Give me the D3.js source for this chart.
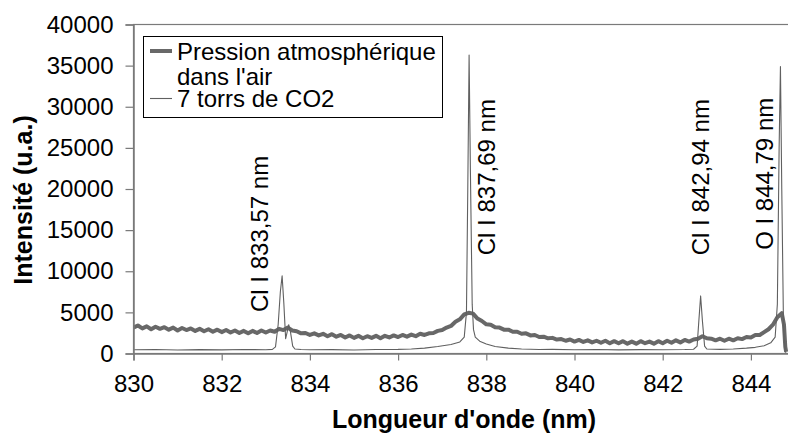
<!DOCTYPE html>
<html>
<head>
<meta charset="utf-8">
<script src="https://cdn.jsdelivr.net/npm/d3@7"></script>
<style>
  html, body { margin: 0; padding: 0; background: #fff; }
  svg { display: block; font-family: "Liberation Sans", Arial, sans-serif; }
</style>
</head>
<body>
<svg id="chart" width="788" height="434"></svg>
<script>
// ---- Data ----
const seriesNames = ["Pression atmosphérique", "dans l'air", "7 torrs de CO2"];

const airWavelength = [
  830.0,830.1,830.2,830.3,830.4,830.5,830.6,830.7,830.8,830.9,
  831.0,831.1,831.2,831.3,831.4,831.5,831.6,831.7,831.8,831.9,
  832.0,832.1,832.2,832.3,832.4,832.5,832.6,832.7,832.8,832.9,
  833.0,833.1,833.2,833.3,833.4,833.5,833.6,833.7,833.8,833.9,
  834.0,834.1,834.2,834.3,834.4,834.5,834.6,834.7,834.8,834.9,
  835.0,835.1,835.2,835.3,835.4,835.5,835.6,835.7,835.8,835.9,
  836.0,836.1,836.2,836.3,836.4,836.5,836.6,836.7,836.8,836.9,
  837.0,837.1,837.2,837.3,837.4,837.5,837.6,837.7,837.8,837.9,
  838.0,838.1,838.2,838.3,838.4,838.5,838.6,838.7,838.8,838.9,
  839.0,839.1,839.2,839.3,839.4,839.5,839.6,839.7,839.8,839.9,
  840.0,840.1,840.2,840.3,840.4,840.5,840.6,840.7,840.8,840.9,
  841.0,841.1,841.2,841.3,841.4,841.5,841.6,841.7,841.8,841.9,
  842.0,842.1,842.2,842.3,842.4,842.5,842.6,842.7,842.8,842.9,
  843.0,843.1,843.2,843.3,843.4,843.5,843.6,843.7,843.8,843.9,
  844.0,844.1,844.2,844.3,844.4,844.5,844.6,844.7,844.75,844.78,844.8
];
const airIntensity = [
  3150,3400,3050,3300,2950,3250,3000,3200,2900,3150,
  2800,3100,2850,3050,2750,3000,2700,2950,2650,2900,
  2600,2850,2550,2800,2500,2750,2450,2750,2500,2800,
  2550,2800,2650,3000,2850,3150,2800,2700,2450,2500,
  2250,2450,2200,2400,2100,2350,2050,2250,1950,2200,
  1900,2150,1850,2100,1900,2150,1850,2150,1950,2200,
  2000,2250,2050,2300,2100,2400,2250,2450,2500,2750,
  2850,3150,3350,3850,4150,4750,4950,4850,4250,3950,
  3550,3500,3200,3150,2900,2900,2650,2650,2400,2450,
  2200,2250,2000,2050,1850,1900,1700,1750,1550,1700,
  1450,1650,1400,1600,1350,1550,1300,1550,1250,1500,
  1250,1500,1200,1450,1200,1500,1250,1450,1200,1500,
  1250,1550,1300,1600,1350,1650,1450,1700,1800,2100,
  1850,1800,1600,1800,1550,1800,1600,1850,1750,2000,
  1950,2250,2250,2600,2950,3500,4400,4900,3500,800,200
];

const co2Wavelength = [
  830.0,830.5,831.0,831.5,832.0,832.5,833.0,833.15,833.22,833.28,
  833.33,833.37,833.41,833.45,833.48,833.52,833.56,833.61,833.66,833.8,
  834.0,834.5,835.0,835.5,836.0,836.3,836.6,836.9,837.2,837.4,
  837.5,837.55,837.58,837.61,837.64,837.68,837.71,837.75,837.85,838.0,
  838.2,838.5,838.8,839.2,839.5,840.0,840.5,841.0,841.5,842.0,
  842.5,842.7,842.78,842.82,842.86,842.9,842.95,843.0,843.3,843.6,
  843.9,844.1,844.3,844.45,844.55,844.6,844.64,844.67,844.7,844.74,
  844.78,844.8
];
const co2Intensity = [
  450,480,430,470,440,480,460,500,800,3500,
  7500,9450,6000,1800,2500,3500,2600,900,550,480,
  450,470,430,480,500,550,650,850,1100,1400,
  2000,5000,20000,36300,22000,6000,2900,2000,1500,1150,
  850,650,550,480,500,450,480,440,470,450,
  480,520,900,4000,7000,4000,900,550,500,550,
  650,750,950,1300,2000,6000,25000,34900,20000,3000,
  200,100
];

const xTicks = [830, 832, 834, 836, 838, 840, 842, 844];
const yTicks = [0, 5000, 10000, 15000, 20000, 25000, 30000, 35000, 40000];

const lineLabels = ["Cl I 833,57 nm", "Cl I 837,69 nm", "Cl I 842,94 nm", "O I 844,79 nm"];
const lineLabelWavelengths = [833.06, 838.20, 843.04, 844.49];
const lineLabelIntensities = [5050, 11950, 11950, 12600];

(function () {
// ---- Layout ----
const svg = d3.select("#chart");
const mLeft = 133.5, mRight = 795, mTop = 24.5, mBottom = 353.5;
const x = d3.scaleLinear().domain([830, 845]).range([mLeft, mRight]);
const y = d3.scaleLinear().domain([0, 40000]).range([mBottom, mTop]);
const axisColor = "#7a7a7a";
const FS = 24;

// plot area border
svg.append("rect")
  .attr("x", mLeft).attr("y", mTop)
  .attr("width", mRight - mLeft).attr("height", mBottom - mTop)
  .attr("fill", "none").attr("stroke", axisColor).attr("stroke-width", 1.2);

// clip
svg.append("clipPath").attr("id", "clip")
  .append("rect").attr("x", mLeft).attr("y", 0).attr("width", mRight - mLeft).attr("height", mBottom + 1);

const plot = svg.append("g").attr("clip-path", "url(#clip)");

const airData = airWavelength.map((w, i) => [w, airIntensity[i]]);
const co2Data = co2Wavelength.map((w, i) => [w, co2Intensity[i]]);
const line = d3.line().x(d => x(d[0])).y(d => y(d[1]));

plot.append("path").datum(airData)
  .attr("d", line).attr("fill", "none")
  .attr("stroke", "#686868").attr("stroke-width", 4).attr("stroke-linejoin", "round");

plot.append("path").datum(co2Data)
  .attr("d", line).attr("fill", "none")
  .attr("stroke", "#606060").attr("stroke-width", 1.1).attr("stroke-linejoin", "round");

// Axes
const yAxis = d3.axisLeft(y).tickValues(yTicks).tickSize(8).tickPadding(12).tickFormat(d3.format("d"));
const gy = svg.append("g").attr("transform", `translate(${mLeft},0)`).call(yAxis);
gy.select(".domain").attr("stroke", axisColor).attr("stroke-width", 1.5);
gy.selectAll(".tick line").attr("stroke", axisColor).attr("stroke-width", 1.2);
gy.selectAll(".tick text").attr("fill", "#000").style("font-size", FS + "px")
  .style("font-family", "'Liberation Sans', Arial, sans-serif");

const xAxis = d3.axisBottom(x).tickValues(xTicks).tickSize(7).tickPadding(14).tickFormat(d3.format("d"));
const gx = svg.append("g").attr("transform", `translate(0,${mBottom})`).call(xAxis);
gx.select(".domain").attr("stroke", axisColor).attr("stroke-width", 1.5);
gx.selectAll(".tick line").attr("stroke", axisColor).attr("stroke-width", 1.2);
gx.selectAll(".tick text").attr("fill", "#000").style("font-size", FS + "px")
  .style("font-family", "'Liberation Sans', Arial, sans-serif");

// Axis titles
svg.append("text")
  .attr("x", 464).attr("y", 428)
  .attr("text-anchor", "middle")
  .style("font-size", "25px").style("font-weight", "bold")
  .text("Longueur d'onde (nm)");

svg.append("text")
  .attr("transform", `translate(32,200) rotate(-90)`)
  .attr("text-anchor", "middle")
  .style("font-size", "25px").style("font-weight", "bold")
  .text("Intensité (u.a.)");

// Spectral line labels
lineLabels.forEach((t, i) => {
  const px = x(lineLabelWavelengths[i]);
  const py = y(lineLabelIntensities[i]);
  svg.append("text")
    .attr("transform", `translate(${px},${py}) rotate(-90)`)
    .attr("text-anchor", "start")
    .style("font-size", FS + "px")
    .text(t);
});

// Legend
const lg = svg.append("g");
lg.append("rect").attr("x", 143.5).attr("y", 36.5).attr("width", 299).attr("height", 81)
  .attr("fill", "#fff").attr("stroke", "#000").attr("stroke-width", 1);
lg.append("line").attr("x1", 150).attr("x2", 172).attr("y1", 51).attr("y2", 51)
  .attr("stroke", "#686868").attr("stroke-width", 4);
lg.append("line").attr("x1", 150).attr("x2", 172).attr("y1", 98.5).attr("y2", 98.5)
  .attr("stroke", "#606060").attr("stroke-width", 1.1);
lg.append("text").attr("x", 177).attr("y", 60).style("font-size", FS + "px").text(seriesNames[0]);
lg.append("text").attr("x", 177).attr("y", 85).style("font-size", FS + "px").text(seriesNames[1]);
lg.append("text").attr("x", 177).attr("y", 107).style("font-size", FS + "px").text(seriesNames[2]);
})();
</script>
</body>
</html>
